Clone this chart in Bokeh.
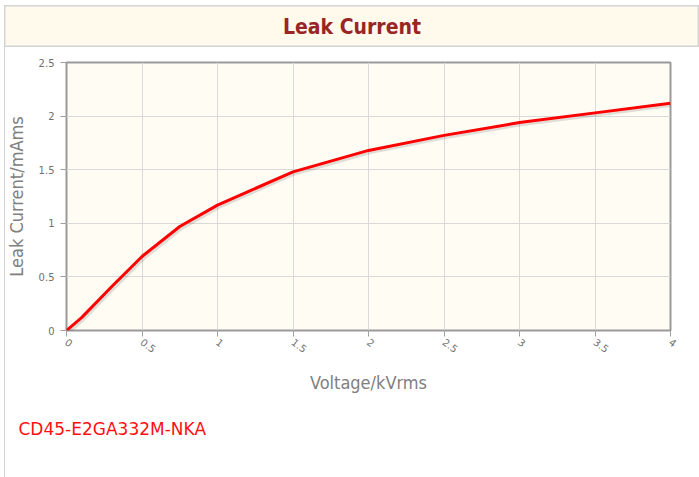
from bokeh.plotting import figure
from bokeh.models import (ColumnDataSource, Label, Title, NumeralTickFormatter, FixedTicker, Range1d)
from bokeh.layouts import column
from bokeh.transform import dodge
from bokeh.embed import file_html
from bokeh.resources import INLINE

# ---- data ----
title_text = "Leak Current"
part_number = "CD45-E2GA332M-NKA"
x_label = "Voltage/kVrms"
y_label = "Leak Current/mAms"
voltage = [0, 0.1, 0.3, 0.5, 0.75, 1.0, 1.5, 2.0, 2.5, 3.0, 3.5, 4.0]
current = [0, 0.12, 0.41, 0.69, 0.97, 1.17, 1.48, 1.68, 1.82, 1.94, 2.03, 2.12]
x_ticks = [0, 0.5, 1, 1.5, 2, 2.5, 3, 3.5, 4]
y_ticks = [0, 0.5, 1, 1.5, 2, 2.5]

FONT = "DejaVu Sans Condensed, DejaVu Sans"

# ---- header ----
h = figure(width=695, height=42, output_backend="svg", toolbar_location=None,
           x_range=Range1d(0, 1), y_range=Range1d(0, 1), min_border=0)
h.frame_align = False
h.margin = (5, 0, 0, 4)
h.axis.visible = False
h.grid.visible = False
h.background_fill_color = "#fffaec"
h.border_fill_color = "#fffaec"
h.outline_line_color = "#d4d4d4"
h.outline_line_width = 2
h.add_layout(Label(x=0.5, y=0.5, text=title_text, text_align="center",
                   text_baseline="middle", text_font=FONT, text_font_size="21px",
                   text_font_style="bold", text_color="#992525"))

# ---- main chart ----
src = ColumnDataSource(dict(x=voltage, y=current))
p = figure(width=699, height=430, output_backend="svg", toolbar_location=None,
           x_range=Range1d(0, 4), y_range=Range1d(0, 2.5),
           min_border_left=66, min_border_right=29, min_border_top=15, min_border_bottom=147)
p.frame_align = False
p.margin = (0, 0, 0, 0)
p.styles = {"background": "linear-gradient(to right, white 4px, #d4d4d4 4px, #d4d4d4 5px, white 5px)"}
p.background_fill_color = "#fffcf4"
p.border_fill_color = None
p.outline_line_color = "#9a9a9a"
p.outline_line_width = 2

p.xaxis.ticker = FixedTicker(ticks=x_ticks)
p.yaxis.ticker = FixedTicker(ticks=y_ticks)
for ax in (p.xaxis, p.yaxis):
    ax.formatter = NumeralTickFormatter(format="0.[0]")
    ax.axis_line_color = None
    ax.major_tick_in = 0
    ax.major_tick_out = 6
    ax.major_tick_line_color = "#a0a0a0"
    ax.minor_tick_line_color = None
    ax.major_label_text_font = "DejaVu Sans"
    ax.major_label_text_font_size = "10px"
    ax.major_label_text_color = "#707070"
    ax.axis_label_text_font = FONT
    ax.axis_label_text_font_size = "18px"
    ax.axis_label_text_font_style = "normal"
    ax.axis_label_text_color = "#808080"
p.xaxis.axis_label = x_label
p.yaxis.axis_label = y_label
p.xaxis.major_label_orientation = -0.65
p.xaxis.major_label_standoff = 4
p.yaxis.major_label_standoff = 6
p.xaxis.axis_label_standoff = 13
p.yaxis.axis_label_standoff = 9

p.grid.grid_line_color = "#d9d9d9"
p.grid.grid_line_width = 1

# shadow and line
p.line(x=dodge("x", 0.012), y=dodge("y", -0.02), source=src, line_color="black",
       line_alpha=0.12, line_width=3)
p.line(x="x", y="y", source=src, line_color="#ff0000", line_width=3)

p.add_layout(Title(text=part_number, align="left", offset=-48, standoff=40,
                   text_font="DejaVu Sans", text_font_size="17px",
                   text_font_style="normal", text_color="#ff1010"), "below")

layout = column(h, p, spacing=0)
open("out.html", "w").write(file_html(layout, INLINE))
